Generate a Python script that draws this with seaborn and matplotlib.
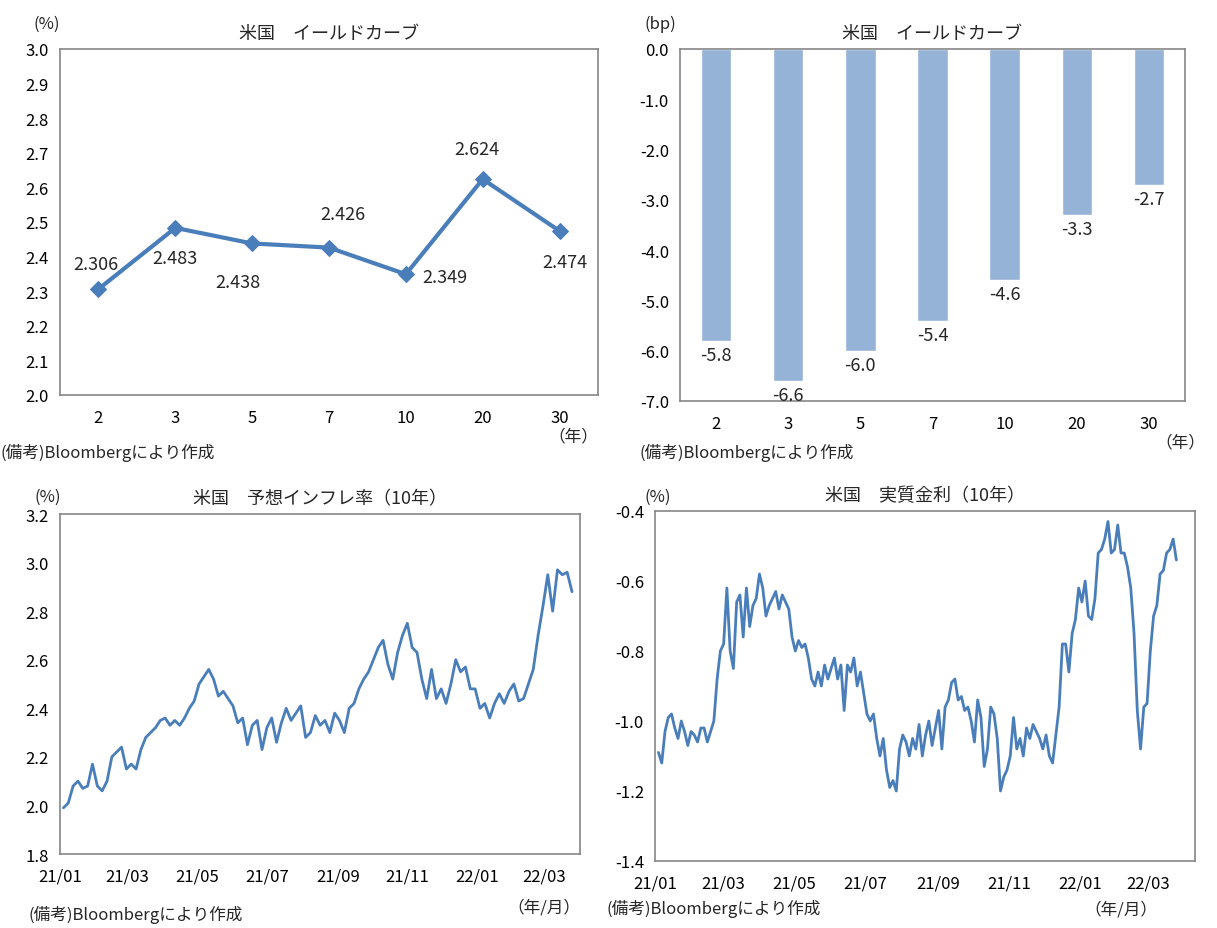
import matplotlib
matplotlib.use("Agg")
import matplotlib.pyplot as plt
import numpy as np
import pandas as pd
import seaborn as sns

sns.set_theme(style="white")
plt.rcParams["font.family"] = ["Noto Sans CJK JP", "DejaVu Sans"]
plt.rcParams["axes.unicode_minus"] = False

BLUE = "#4a7ebb"
BAR = "#95b3d7"
GRAY = "#868686"

maturities = ["2", "3", "5", "7", "10", "20", "30"]
yields = [2.306, 2.483, 2.438, 2.426, 2.349, 2.624, 2.474]
changes_bp = [-5.8, -6.6, -6.0, -5.4, -4.6, -3.3, -2.7]

breakeven = [1.99, 2.01, 2.08, 2.10, 2.07, 2.08, 2.17, 2.08, 2.06, 2.10, 2.20, 2.22, 2.24,
             2.15, 2.17, 2.15, 2.23, 2.28, 2.30, 2.32, 2.35, 2.36, 2.33, 2.35, 2.33, 2.36,
             2.40, 2.43, 2.50, 2.53, 2.56, 2.52, 2.45, 2.47, 2.44, 2.41, 2.34, 2.36, 2.25,
             2.33, 2.35, 2.23, 2.32, 2.36, 2.26, 2.34, 2.40, 2.35, 2.38, 2.41, 2.28, 2.30,
             2.37, 2.33, 2.35, 2.30, 2.38, 2.35, 2.30, 2.40, 2.42, 2.48, 2.52, 2.55, 2.60,
             2.65, 2.68, 2.58, 2.52, 2.63, 2.70, 2.75, 2.65, 2.63, 2.52, 2.44, 2.56, 2.44,
             2.48, 2.42, 2.50, 2.60, 2.55, 2.57, 2.48, 2.48, 2.40, 2.42, 2.36, 2.42, 2.46,
             2.42, 2.47, 2.50, 2.43, 2.44, 2.50, 2.56, 2.70, 2.82, 2.95, 2.80, 2.97, 2.95,
             2.96, 2.88]

real_rate = [-1.09, -1.12, -1.03, -0.99, -0.98, -1.02, -1.05, -1.00, -1.03, -1.07, -1.03,
             -1.04, -1.06, -1.02, -1.02, -1.06, -1.03, -1.00, -0.88, -0.80, -0.78, -0.62,
             -0.80, -0.85, -0.66, -0.64, -0.76, -0.62, -0.73, -0.67, -0.65, -0.58, -0.62,
             -0.70, -0.67, -0.65, -0.63, -0.68, -0.64, -0.66, -0.68, -0.76, -0.80, -0.77,
             -0.79, -0.78, -0.82, -0.88, -0.90, -0.86, -0.90, -0.84, -0.88, -0.85, -0.82,
             -0.88, -0.84, -0.97, -0.84, -0.86, -0.82, -0.90, -0.86, -0.92, -0.98, -1.00,
             -0.98, -1.05, -1.10, -1.05, -1.14, -1.19, -1.17, -1.20, -1.08, -1.04, -1.06,
             -1.10, -1.05, -1.08, -1.01, -1.10, -1.04, -1.00, -1.07, -1.02, -0.97, -1.08,
             -0.96, -0.94, -0.89, -0.88, -0.94, -0.93, -0.97, -0.96, -1.00, -1.06, -0.94,
             -0.99, -1.13, -1.08, -0.96, -0.98, -1.05, -1.20, -1.16, -1.14, -1.10, -0.99,
             -1.08, -1.05, -1.10, -1.02, -1.05, -1.01, -1.03, -1.05, -1.08, -1.04, -1.10,
             -1.12, -1.04, -0.96, -0.78, -0.78, -0.86, -0.75, -0.71, -0.62, -0.66, -0.60,
             -0.70, -0.71, -0.65, -0.52, -0.51, -0.48, -0.43, -0.52, -0.51, -0.44, -0.52,
             -0.52, -0.56, -0.62, -0.75, -0.97, -1.08, -0.96, -0.95, -0.80, -0.70, -0.67,
             -0.58, -0.57, -0.52, -0.51, -0.48, -0.54]

tick_dates = pd.to_datetime(["2021-01-01", "2021-03-01", "2021-05-01", "2021-07-01",
                             "2021-09-01", "2021-11-01", "2022-01-01", "2022-03-01"])
tick_labels = ["21/01", "21/03", "21/05", "21/07", "21/09", "21/11", "22/01", "22/03"]

start, end = pd.Timestamp("2021-01-04"), pd.Timestamp("2022-03-25")
be_df = pd.DataFrame({"date": pd.date_range(start, end, periods=len(breakeven)), "v": breakeven})
rr_df = pd.DataFrame({"date": pd.date_range(start, end, periods=len(real_rate)), "v": real_rate})

fig = plt.figure(figsize=(12.17, 9.29), dpi=100)
W, H = 1217, 929


def box(l, t, r, b):
    return [l / W, 1 - b / H, (r - l) / W, (b - t) / H]


def style(ax):
    for s in ax.spines.values():
        s.set_color(GRAY)
        s.set_linewidth(1.2)
    ax.tick_params(labelsize=12, colors="black", length=0)
    ax.tick_params(axis="y", pad=8)
    ax.tick_params(axis="x", pad=10)


# top left: yield curve
ax1 = fig.add_axes(box(60, 50, 598, 396))
style(ax1)
sns.lineplot(x=maturities, y=yields, ax=ax1, color=BLUE, lw=3, marker="D",
             markersize=8, markeredgecolor=BLUE, sort=False)
ax1.set_ylim(2.0, 3.0)
ax1.set_yticks(np.arange(2.0, 3.01, 0.1))
ax1.set_yticklabels([f"{v:.1f}" for v in np.arange(2.0, 3.01, 0.1)])
ax1.set_xlim(-0.5, 6.5)
offs = [(-2, 18), (0, -22), (-10, -28), (10, 24), (28, -2), (-4, 22), (4, -22)]
for i, (v, o) in enumerate(zip(yields, offs)):
    ax1.annotate(f"{v:.3f}", (i, v), xytext=o, textcoords="offset points",
                 ha="center", va="center", fontsize=13)
ax1.set_title("米国　イールドカーブ", fontsize=13, pad=8)
ax1.text(-0.05, 1.06, "(%)", transform=ax1.transAxes, fontsize=12)
ax1.text(1.0, -0.13, "（年）", transform=ax1.transAxes, fontsize=12, ha="right")
ax1.text(-0.11, -0.18, "(備考)Bloombergにより作成", transform=ax1.transAxes, fontsize=12)

# top right: change in bp
ax2 = fig.add_axes(box(680, 50, 1185, 402))
style(ax2)
sns.barplot(x=maturities, y=changes_bp, ax=ax2, color=BAR, width=0.42, saturation=1)
ax2.set_ylim(-7.0, 0.0)
ax2.set_yticks(np.arange(-7, 0.01, 1))
ax2.set_yticklabels([f"{v:.1f}" for v in np.arange(-7, 0.01, 1)])
for i, v in enumerate(changes_bp):
    ax2.text(i, v - 0.1, f"{v:.1f}", ha="center", va="top", fontsize=13)
ax2.set_title("米国　イールドカーブ", fontsize=13, pad=8)
ax2.text(-0.07, 1.06, "(bp)", transform=ax2.transAxes, fontsize=12)
ax2.text(1.04, -0.13, "（年）", transform=ax2.transAxes, fontsize=12, ha="right")
ax2.text(-0.08, -0.16, "(備考)Bloombergにより作成", transform=ax2.transAxes, fontsize=12)

# bottom left: breakeven
ax3 = fig.add_axes(box(60, 515, 580, 855))
style(ax3)
sns.lineplot(data=be_df, x="date", y="v", ax=ax3, color=BLUE, lw=2)
ax3.set_ylim(1.8, 3.2)
ax3.set_yticks(np.arange(1.8, 3.21, 0.2))
ax3.set_yticklabels([f"{v:.1f}" for v in np.arange(1.8, 3.21, 0.2)])
ax3.set_xlim(pd.Timestamp("2021-01-01"), pd.Timestamp("2022-04-01"))
ax3.set_xticks(tick_dates)
ax3.set_xticklabels(tick_labels)
ax3.set_xlabel("")
ax3.set_ylabel("")
ax3.set_title("米国　予想インフレ率（10年）", fontsize=13, pad=8)
ax3.text(-0.05, 1.04, "(%)", transform=ax3.transAxes, fontsize=12)
ax3.text(1.0, -0.17, "（年/月）", transform=ax3.transAxes, fontsize=12, ha="right")
ax3.text(-0.06, -0.19, "(備考)Bloombergにより作成", transform=ax3.transAxes, fontsize=12)

# bottom right: real rate
ax4 = fig.add_axes(box(655, 512, 1195, 862))
style(ax4)
sns.lineplot(data=rr_df, x="date", y="v", ax=ax4, color=BLUE, lw=2)
ax4.set_ylim(-1.4, -0.4)
ax4.set_yticks(np.arange(-1.4, -0.39, 0.2))
ax4.set_yticklabels([f"{v:.1f}" for v in np.arange(-1.4, -0.39, 0.2)])
ax4.set_xlim(pd.Timestamp("2021-01-01"), pd.Timestamp("2022-04-10"))
ax4.set_xticks(tick_dates)
ax4.set_xticklabels(tick_labels)
ax4.set_xlabel("")
ax4.set_ylabel("")
ax4.set_title("米国　実質金利（10年）", fontsize=13, pad=8)
ax4.text(-0.02, 1.03, "(%)", transform=ax4.transAxes, fontsize=12)
ax4.text(0.93, -0.15, "（年/月）", transform=ax4.transAxes, fontsize=12, ha="right")
ax4.text(-0.09, -0.15, "(備考)Bloombergにより作成", transform=ax4.transAxes, fontsize=12)

fig.savefig("out.png", dpi=100, facecolor="white")
